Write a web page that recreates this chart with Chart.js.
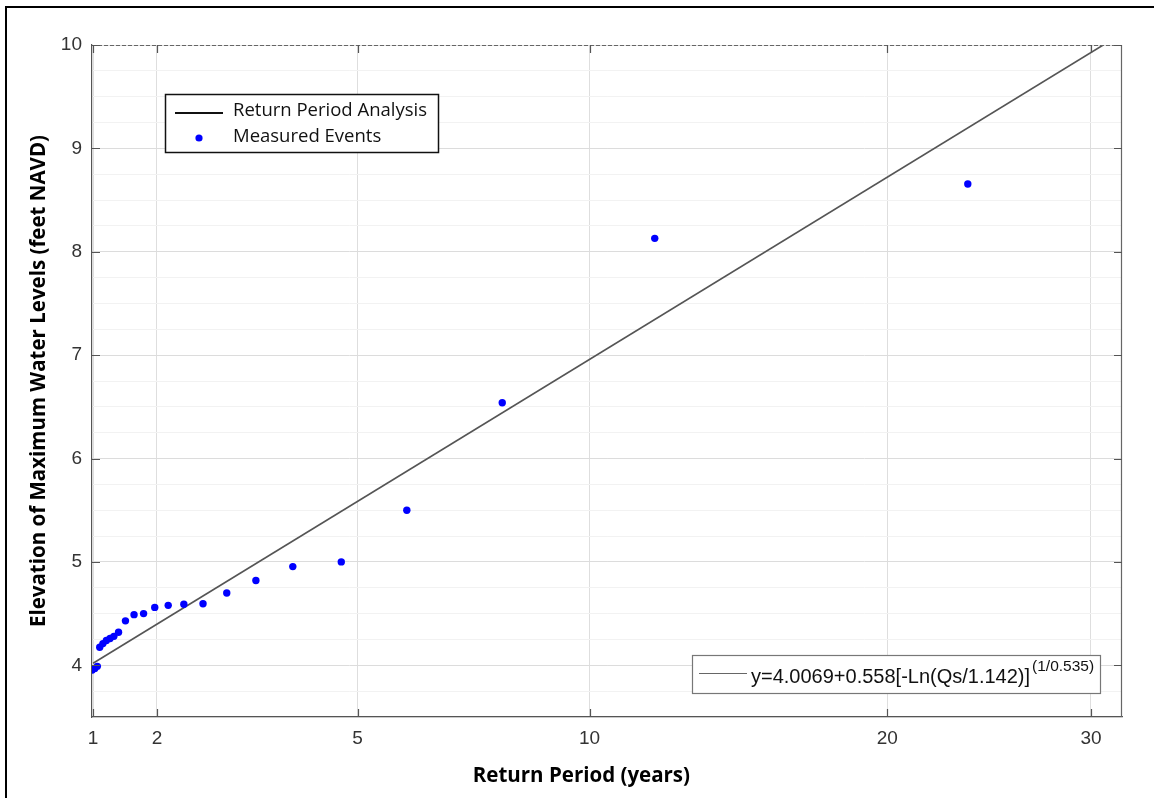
<!DOCTYPE html>
<html>
<head>
<meta charset="utf-8">
<script src="https://cdn.jsdelivr.net/npm/chart.js@4.4.1/dist/chart.umd.min.js"></script>
<style>
  html, body { margin: 0; padding: 0; background: #fff; }
  #wrap { position: absolute; left: 0; top: 0; width: 1154px; height: 798px; }
  #frame { position: absolute; left: 5px; top: 6px; right: 0; bottom: 0;
           border-left: 2px solid #000; border-top: 2px solid #000; pointer-events: none; }
</style>
</head>
<body>
<div id="wrap">
  <canvas id="return-period" width="1154" height="798"></canvas>
  <div id="frame"></div>
</div>
<script>
// Measured events: return period (years) and peak water level (ft NAVD)
const eventPeriods = [0.97, 1.05, 1.11, 1.16, 1.22, 1.28, 1.34, 1.40, 1.47, 1.57, 1.69, 1.82,
                      1.97, 2.15, 2.36, 2.62, 2.95, 3.37, 3.93, 4.72, 5.9, 7.88, 11.8, 23.6];
const eventLevels  = [3.955, 3.97, 3.99, 4.175, 4.21, 4.24, 4.26, 4.28, 4.32, 4.43, 4.49, 4.50,
                      4.56, 4.58, 4.59, 4.595, 4.70, 4.82, 4.955, 5.00, 5.50, 6.54, 8.13, 8.655];

// ends of the return period analysis line
const fitPeriods = [1, 30.7];
const fitLevels  = [4.02, 10.0];

const periodTicks = [1, 2, 5, 10, 20, 30];
const equationText = "y=4.0069+0.558[-Ln(Qs/1.142)]";
const equationPower = "(1/0.535)";

// probability paper used on the x axis: return period -> reduced variate
const toAxis = T => Math.pow(Math.log(1.142 * T), 1 / 0.535);

const events = eventPeriods.map((T, i) => ({ x: toAxis(T), y: eventLevels[i] }));
const fitLine = fitPeriods.map((T, i) => ({ x: toAxis(T), y: fitLevels[i] }));

// box, inward tick marks and the two legends
const decorations = {
  id: "decorations",
  afterDraw(chart) {
    const { ctx, chartArea: a, scales: { x, y } } = chart;
    ctx.save();

    // top (dashed) and right frame
    ctx.strokeStyle = "#666";
    ctx.lineWidth = 1.2;
    ctx.setLineDash([4, 2]);
    ctx.beginPath(); ctx.moveTo(a.left, a.top + 0.5); ctx.lineTo(a.right, a.top + 0.5); ctx.stroke();
    ctx.setLineDash([]);
    ctx.beginPath(); ctx.moveTo(a.right - 0.5, a.top); ctx.lineTo(a.right - 0.5, a.bottom); ctx.stroke();

    // ticks pointing inside the box
    ctx.strokeStyle = "#555";
    ctx.lineWidth = 1.2;
    ctx.beginPath();
    x.ticks.forEach(t => {
      const px = Math.round(x.getPixelForValue(t.value)) + 0.5;
      ctx.moveTo(px, a.bottom); ctx.lineTo(px, a.bottom - 8);
      ctx.moveTo(px, a.top); ctx.lineTo(px, a.top + 8);
    });
    y.ticks.forEach(t => {
      if (!Number.isInteger(t.value)) return;
      const py = Math.round(y.getPixelForValue(t.value)) + 0.5;
      ctx.moveTo(a.left, py); ctx.lineTo(a.left + 8, py);
      ctx.moveTo(a.right, py); ctx.lineTo(a.right - 8, py);
    });
    ctx.stroke();

    // series legend, top left
    const ds = chart.data.datasets;
    ctx.fillStyle = "#fff";
    ctx.fillRect(165, 94, 274, 59);
    ctx.strokeStyle = "#111";
    ctx.lineWidth = 1.5;
    ctx.strokeRect(165.5, 94.5, 273, 58);
    ctx.lineWidth = 2;
    ctx.beginPath(); ctx.moveTo(175, 113); ctx.lineTo(223, 113); ctx.stroke();
    ctx.fillStyle = "#0000ff";
    ctx.beginPath(); ctx.arc(199, 138, 3.6, 0, Math.PI * 2); ctx.fill();
    ctx.fillStyle = "#111";
    ctx.font = "18.5px 'Open Sans'";
    ctx.textBaseline = "middle";
    ctx.fillText(ds[1].label, 233, 111);
    ctx.fillText(ds[0].label, 233, 137);

    // equation legend, bottom right
    ctx.fillStyle = "#fff";
    ctx.fillRect(692, 655, 409, 39);
    ctx.strokeStyle = "#777";
    ctx.lineWidth = 1.2;
    ctx.strokeRect(692.5, 655.5, 408, 38);
    ctx.strokeStyle = "#666";
    ctx.beginPath(); ctx.moveTo(699, 673.5); ctx.lineTo(747, 673.5); ctx.stroke();
    ctx.fillStyle = "#111";
    ctx.textBaseline = "alphabetic";
    ctx.font = "20px 'Liberation Sans', Arial, sans-serif";
    ctx.fillText(equationText, 751, 683);
    const w = ctx.measureText(equationText).width;
    ctx.font = "15.5px 'Liberation Sans', Arial, sans-serif";
    ctx.fillText(equationPower, 751 + w + 2, 671);

    ctx.restore();
  }
};

new Chart("return-period", {
  type: "scatter",
  data: {
    datasets: [
      {
        label: "Measured Events",
        data: events,
        backgroundColor: "#0000ff",
        borderColor: "#0000ff",
        pointRadius: 3.7,
        pointBorderWidth: 0,
        order: 1
      },
      {
        label: "Return Period Analysis",
        type: "line",
        data: fitLine,
        borderColor: "#555",
        borderWidth: 1.6,
        pointRadius: 0,
        fill: false,
        order: 2
      }
    ]
  },
  options: {
    responsive: false,
    animation: false,
    layout: { padding: { top: 45, right: 32, left: 0, bottom: 0 } },
    plugins: {
      legend: { display: false },
      tooltip: { enabled: false }
    },
    scales: {
      x: {
        type: "linear",
        min: toAxis(0.96),
        max: toAxis(31.8),
        afterBuildTicks: axis => { axis.ticks = periodTicks.map(T => ({ value: toAxis(T) })); },
        afterFit: s => { s.height = 81; },
        ticks: {
          callback: (v, i) => periodTicks[i],
          font: { family: "'Liberation Sans', Arial", size: 19 },
          color: "#333",
          padding: 10,
          maxRotation: 0,
          autoSkip: false
        },
        grid: { color: "#dedede", drawTicks: false },
        border: { color: "#555", width: 1.2 },
        title: {
          display: true,
          // trailing spaces push the title a little left of the axis centre, as in the original
          text: "Return Period (years)\u2003\u2003\u2002",
          font: { family: "'Open Sans'", size: 20.5, weight: "bold" },
          color: "#000",
          padding: { top: 0, bottom: 10 }
        }
      },
      y: {
        min: 3.5,
        max: 10,
        afterFit: s => { s.width = 92; },
        ticks: {
          stepSize: 0.25,
          autoSkip: false,
          callback: v => Number.isInteger(v) ? v : "",
          font: { family: "'Liberation Sans', Arial", size: 19 },
          color: "#333",
          padding: 10
        },
        grid: {
          color: c => Number.isInteger(c.tick.value) ? "#dcdcdc" : "#f2f2f2",
          drawTicks: false
        },
        border: { color: "#555", width: 1.2 },
        title: {
          display: true,
          text: "Elevation of Maximum Water Levels (feet NAVD)",
          font: { family: "'Open Sans'", size: 20.5, weight: "bold" },
          color: "#000",
          padding: { top: 27, bottom: 0 }
        }
      }
    }
  },
  plugins: [decorations]
});
</script>
</body>
</html>
